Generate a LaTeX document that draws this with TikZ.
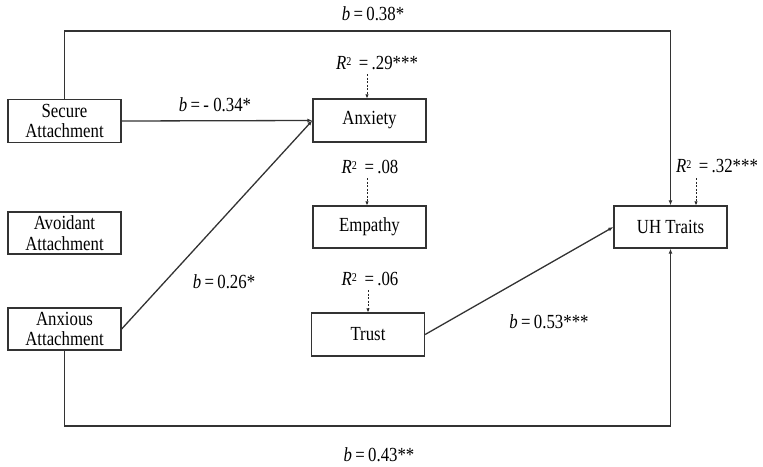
\documentclass[tikz,border=0pt]{standalone}
\usepackage{fontspec}
\setmainfont{Liberation Serif}[FakeStretch=0.84]
\usetikzlibrary{arrows.meta}
\begin{document}
\begin{tikzpicture}[x=1pt,y=-1pt,
  box/.style={draw=black!80, line width=1.3pt, minimum width=113pt, minimum height=43pt, inner sep=0pt, align=center, font=\fontsize{20}{20.5}\selectfont},
  lbl/.style={inner sep=0pt, font=\fontsize{20}{20.5}\selectfont},
  conn/.style={draw=black!80, line width=1.3pt},
  arr/.style={conn, -{Latex[length=5pt,width=4pt]}},
  darr/.style={draw=black!85, line width=0.8pt, dash pattern=on 2pt off 1.5pt, -{Latex[length=4pt,width=3.5pt]}}]
\useasboundingbox (0,0) rectangle (763,466);
\newcommand{\Rsq}{\textit{R}\raisebox{0.45ex}{\fontsize{12}{12}\selectfont 2}}
% boxes
\node[box] (sec) at (64.5,121) {Secure\\Attachment};
\node[box, minimum height=42pt] (avo) at (64.5,233) {Avoidant\\Attachment};
\node[box, minimum height=42pt] (anx) at (64.5,329) {Anxious\\Attachment};
\node[box] (axy) at (369.5,120.5) {Anxiety};
\node[box, minimum height=42pt] (emp) at (369.5,227) {Empathy};
\node[box] (tru) at (368,334.5) {Trust};
\node[box, minimum height=42pt] (uh) at (670.5,227) {UH Traits};
% connectors
\coordinate (tr) at (670.5,31);
\coordinate (br) at (670.5,426);
\draw[arr] (sec.east) -- (axy.west);
\draw[arr] (anx.east) -- (axy.west);
\draw[arr] (tru.east) -- (uh.west);
\draw[arr] (sec.north) |- (tr) -- (uh.north);
\draw[arr] (anx.south) |- (br) -- (uh.south);
% labels
\node[lbl] (b38) at (373,14) {\textit{b}\,=\,0.38*};
\node[lbl] (b34) at (215,105) {\textit{b}\,=\,- 0.34*};
\node[lbl] (b26) at (224,282) {\textit{b}\,=\,0.26*};
\node[lbl] (b53) at (549,322) {\textit{b}\,=\,0.53***};
\node[lbl] (b43) at (379,455) {\textit{b}\,=\,0.43**};
\node[lbl] (r29) at (377,63) {\Rsq\ \,=\,.29***};
\node[lbl] (r08) at (370,167) {\Rsq\ \,=\,.08};
\node[lbl] (r06) at (370,279) {\Rsq\ \,=\,.06};
\node[lbl] (r32) at (717,166) {\Rsq\ \,=\,.32***};
% dashed arrows
\coordinate (d1) at (367,74);
\coordinate (d2) at (367,178);
\coordinate (d3) at (368,290);
\coordinate (d4) at (696,178);
\draw[darr] (d1) -- (d1 |- axy.north);
\draw[darr] (d2) -- (d2 |- emp.north);
\draw[darr] (d3) -- (d3 |- tru.north);
\draw[darr] (d4) -- (d4 |- uh.north);
\end{tikzpicture}
\end{document}
